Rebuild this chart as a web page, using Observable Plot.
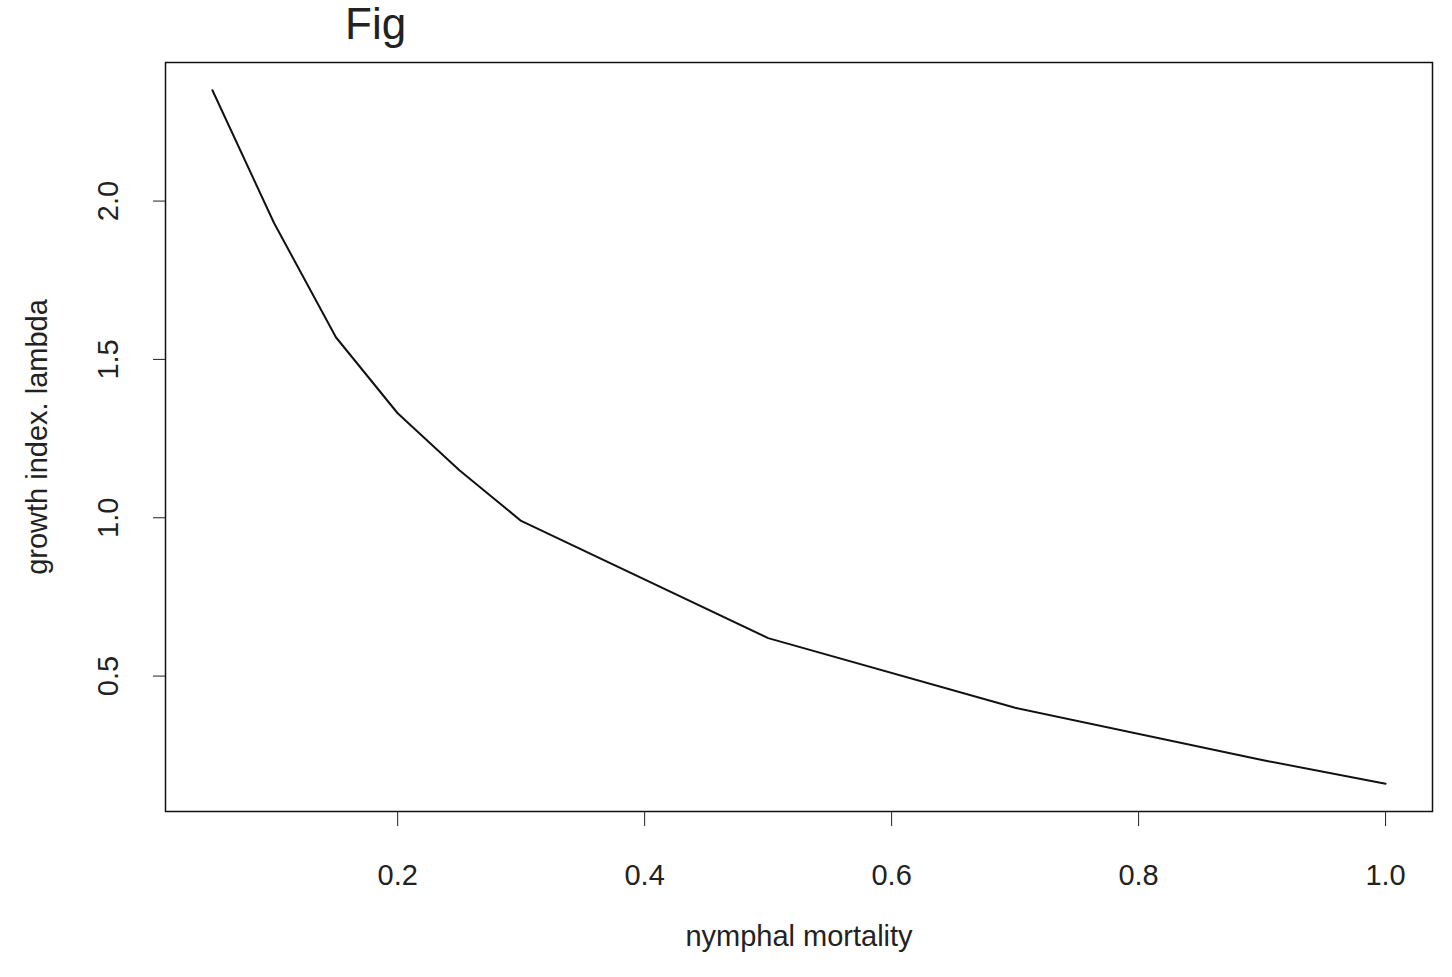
<!DOCTYPE html>
<html>
<head>
<meta charset="utf-8">
<script src="https://cdn.jsdelivr.net/npm/d3@7"></script>
<script src="https://cdn.jsdelivr.net/npm/@observablehq/plot@0.6"></script>
<style>
  html, body { margin: 0; padding: 0; background: #fff; overflow: hidden; }
  #wrap { position: relative; width: 1452px; height: 977px; }
  #fig { position: absolute; left: 345px; top: 2px; font: 44px/1 "Liberation Sans", Arial, sans-serif; color: #222; }
  #chart { position: absolute; left: 0; top: 0; }
</style>
</head>
<body>
<div id="wrap">
  <div id="chart"></div>
  <div id="fig">Fig</div>
</div>
<script>
// Data
const mortality = [0.05, 0.10, 0.15, 0.20, 0.25, 0.30, 0.50, 0.70, 0.90, 1.00];
const lambda    = [2.35, 1.93, 1.57, 1.33, 1.15, 0.99, 0.62, 0.40, 0.235, 0.16];
const xTicks = [0.2, 0.4, 0.6, 0.8, 1.0];
const yTicks = [0.5, 1.0, 1.5, 2.0];
const xTitle = "nymphal mortality";
const yTitle = "growth index. lambda";

const data = mortality.map((m, i) => ({m, l: lambda[i]}));

// R-style 4% padding of the data range
function pad(ext) { const r = ext[1] - ext[0]; return [ext[0] - 0.04 * r, ext[1] + 0.04 * r]; }
const xDomain = pad(d3.extent(mortality));
const yDomain = pad(d3.extent(lambda));

const font = '"Liberation Sans", Arial, sans-serif';
const fmt = d3.format(".1f");

const chart = Plot.plot({
  width: 1452,
  height: 977,
  marginLeft: 165,
  marginRight: 20,
  marginTop: 62,
  marginBottom: 166,
  style: {fontFamily: font, color: "#222", background: "white"},
  x: {domain: xDomain},
  y: {domain: yDomain},
  marks: [
    Plot.frame({stroke: "#111", strokeWidth: 1.5}),
    Plot.axisX({ticks: xTicks, tickSize: 15, tickPadding: 38, tickFormat: fmt, fontSize: 29, label: null, stroke: "#222"}),
    Plot.axisY({ticks: yTicks, tickSize: 12, tickFormat: () => "", label: null, stroke: "#222"}),
    Plot.text(yTicks, {y: d => d, frameAnchor: "left", dx: -57, rotate: -90, textAnchor: "middle", lineAnchor: "middle", text: d => fmt(d), fontSize: 29, fill: "#222"}),
    Plot.line(data, {x: "m", y: "l", stroke: "#111", strokeWidth: 2}),
    Plot.text([xTitle], {frameAnchor: "bottom", dy: 125, lineAnchor: "middle", fontSize: 29, fill: "#222"}),
    Plot.text([yTitle], {frameAnchor: "left", dx: -128, rotate: -90, textAnchor: "middle", lineAnchor: "middle", fontSize: 29, fill: "#222"})
  ]
});
document.getElementById("chart").appendChild(chart);
</script>
</body>
</html>
